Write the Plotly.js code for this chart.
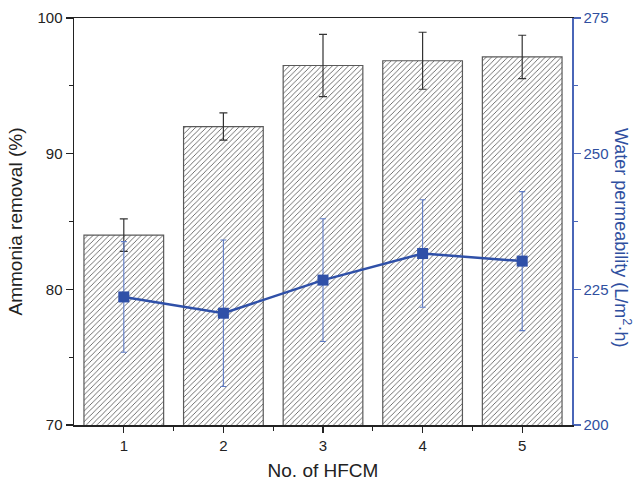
<!DOCTYPE html>
<html><head><meta charset="utf-8">
<script src="https://cdn.plot.ly/plotly-3.0.1.min.js"></script>
<style>html,body{margin:0;padding:0;background:#fff}#chart{width:636px;height:481px}</style>
</head><body><div id="chart"></div>
<script>
var categories = [1, 2, 3, 4, 5];
var removal = [84.0, 92.0, 96.5, 96.85, 97.13];
var removalErr = [1.2, 1.0, 2.3, 2.1, 1.6];
var permeability = [223.6, 220.6, 226.7, 231.6, 230.2];
var permeabilityErr = [10.2, 13.5, 11.3, 9.9, 12.8];
var xTickLabels = ['1', '2', '3', '4', '5'];

var blue = '#2f50a8';
var font = 'Liberation Sans, Arial, sans-serif';

var bars = {
  type: 'bar', x: categories, y: removal, width: 0.8,
  marker: {
    color: '#ffffff',
    line: {color: '#5a5a5a', width: 1.2},
    pattern: {shape: '/', fgcolor: '#555555', bgcolor: '#ffffff', size: 3.8, solidity: 0.22}
  },
  error_y: {type: 'data', array: removalErr, visible: true, color: '#333333', thickness: 1.2, width: 4},
  hoverinfo: 'none', showlegend: false
};

var line = {
  type: 'scatter', mode: 'lines+markers', x: categories, y: permeability, yaxis: 'y2',
  line: {color: blue, width: 2.5},
  marker: {symbol: 'square', size: 11, color: blue},
  error_y: {type: 'data', array: permeabilityErr, visible: true, color: '#5f7cc6', thickness: 1.1, width: 3},
  hoverinfo: 'none', showlegend: false
};

var layout = {
  width: 636, height: 481,
  margin: {l: 74, r: 64, t: 18, b: 56},
  paper_bgcolor: '#ffffff', plot_bgcolor: '#ffffff',
  font: {family: font, size: 15, color: '#222'},
  xaxis: {
    range: [0.5, 5.5], tickvals: categories, ticktext: xTickLabels,
    ticks: 'outside', ticklen: 6, tickwidth: 1.2, tickcolor: '#222',
    showline: true, linecolor: '#222', linewidth: 1.5, mirror: true,
    showgrid: false, zeroline: false,
    minor: {tickvals: [1.5, 2.5, 3.5, 4.5], ticks: 'outside', ticklen: 4, tickcolor: '#222', tickwidth: 1.2},
    tickfont: {size: 15, color: '#222'},
    title: {text: 'No. of HFCM', font: {size: 19, color: '#222'}, standoff: 12}
  },
  yaxis: {
    range: [70, 100], dtick: 10, tick0: 70,
    ticks: 'outside', ticklen: 7, tickwidth: 1.2, tickcolor: '#222',
    showline: true, linecolor: '#222', linewidth: 1.5,
    showgrid: false, zeroline: false,
    minor: {dtick: 5, tick0: 70, ticks: 'outside', ticklen: 4, tickcolor: '#222', tickwidth: 1.2},
    tickfont: {size: 15, color: '#222'},
    title: {text: 'Ammonia removal (%)', font: {size: 19, color: '#222'}, standoff: 10}
  },
  yaxis2: {
    overlaying: 'y', side: 'right', range: [200, 275], dtick: 25, tick0: 200,
    ticks: 'outside', ticklen: 7, tickwidth: 1.2, tickcolor: '#4a66b8',
    showline: true, linecolor: '#4a66b8', linewidth: 1.5,
    showgrid: false, zeroline: false,
    minor: {dtick: 12.5, tick0: 200, ticks: 'outside', ticklen: 4, tickcolor: '#4a66b8', tickwidth: 1.2},
    tickfont: {size: 15, color: '#2f4fa0'}
  },
  annotations: [{
    xref: 'paper', yref: 'paper', x: 1.1, y: 0.46, xanchor: 'center', yanchor: 'middle',
    text: 'Water permeability (L/m<sup>2</sup>·h)', textangle: 90, showarrow: false,
    font: {size: 18, color: '#2f4fa0', family: font}
  }]
};

Plotly.newPlot('chart', [bars, line], layout, {displayModeBar: false, staticPlot: true});
</script></body></html>
